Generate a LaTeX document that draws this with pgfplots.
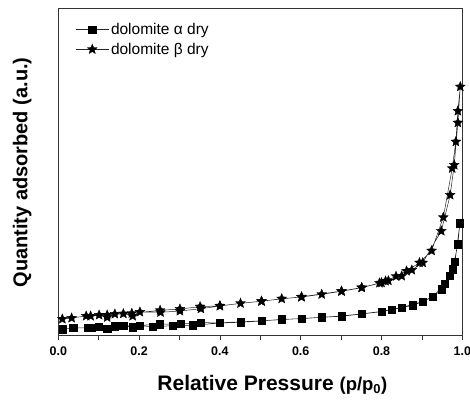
\documentclass[border=0pt]{standalone}
\usepackage{fontspec}
\setmainfont{Liberation Sans}
\usepackage{pgfplots}
\pgfplotsset{compat=1.18}
\usetikzlibrary{plotmarks}

% filled five-pointed star
\pgfdeclareplotmark{fstar}{%
  \pgfpathmoveto{\pgfpointpolar{90}{\pgfplotmarksize}}%
  \pgfpathlineto{\pgfpointpolar{126}{0.45\pgfplotmarksize}}%
  \pgfpathlineto{\pgfpointpolar{162}{\pgfplotmarksize}}%
  \pgfpathlineto{\pgfpointpolar{198}{0.45\pgfplotmarksize}}%
  \pgfpathlineto{\pgfpointpolar{234}{\pgfplotmarksize}}%
  \pgfpathlineto{\pgfpointpolar{270}{0.45\pgfplotmarksize}}%
  \pgfpathlineto{\pgfpointpolar{306}{\pgfplotmarksize}}%
  \pgfpathlineto{\pgfpointpolar{342}{0.45\pgfplotmarksize}}%
  \pgfpathlineto{\pgfpointpolar{18}{\pgfplotmarksize}}%
  \pgfpathlineto{\pgfpointpolar{54}{0.45\pgfplotmarksize}}%
  \pgfpathclose
  \pgfusepathqfillstroke
}

% N2 isotherms, adsorption branch followed by desorption branch
\pgfplotstableread{
x y
0.012 5.7
0.037 7.0
0.072 7.3
0.101 8.0
0.121 6.3
0.140 8.7
0.161 9.0
0.184 7.7
0.202 9.3
0.233 8.3
0.283 9.3
0.333 9.7
0.400 12.0
0.451 12.7
0.503 14.0
0.553 15.7
0.602 16.3
0.652 17.7
0.701 18.7
0.751 21.0
0.800 23.3
0.825 25.3
0.851 27.3
0.877 29.7
0.903 33.3
0.927 38.3
0.950 45.7
0.968 59.0
0.982 73.3
0.994 111.7
0.989 90.7
0.976 65.7
0.957 51.0
0.927 38.6
0.903 33.6
0.851 27.6
0.800 23.6
0.751 21.2
0.701 19.0
0.602 16.5
0.503 14.2
0.400 12.2
0.353 12.3
0.303 11.3
0.252 10.7
0.083 7.3
}\alphadry

\pgfplotstableread{
x y
0.010 16.0
0.033 17.0
0.069 19.0
0.101 20.0
0.121 17.7
0.140 21.0
0.161 21.3
0.184 19.0
0.202 23.0
0.253 22.7
0.301 24.0
0.353 26.3
0.400 29.0
0.451 31.7
0.503 33.7
0.553 36.3
0.602 38.0
0.652 40.7
0.701 43.7
0.751 47.3
0.800 52.3
0.817 54.3
0.850 59.0
0.875 65.0
0.902 72.3
0.948 104.0
0.970 140.0
0.980 170.0
0.989 212.3
0.995 248.3
0.989 224.0
0.984 193.3
0.975 166.7
0.953 117.7
0.924 84.3
0.894 72.3
0.862 64.0
0.836 58.7
0.810 54.0
0.795 52.0
0.751 47.5
0.701 43.9
0.602 38.2
0.503 33.9
0.400 29.2
0.351 28.3
0.301 26.0
0.252 24.7
0.182 21.7
0.121 20.0
0.080 19.0
}\betadry

\begin{document}
\begin{tikzpicture}
\useasboundingbox (-58.3pt,-64pt) rectangle (411.7pt,335pt);
\begin{axis}[
  scale only axis,
  width=404pt, height=327pt,
  at={(0pt,0pt)}, anchor=south west,
  xmin=0, xmax=1, ymin=0, ymax=327,
  axis line style={black!80, line width=0.8pt},
  ytick=\empty,
  xtick={0,0.2,0.4,0.6,0.8,1.0},
  minor xtick={0.1,0.3,0.5,0.7,0.9},
  xtick pos=left,
  tick align=outside,
  major tick length=5pt, minor tick length=5pt,
  tick style={black!80, line width=0.6pt},
  /pgf/number format/assume math mode=true,
  xticklabel={\textbf{\fontsize{12.5}{14}\selectfont\pgfmathprintnumber[fixed,fixed zerofill,precision=1,assume math mode=true]{\tick}}},
  xticklabel style={yshift=-3pt},
  xlabel={\bfseries\fontsize{21}{24}\selectfont Relative Pressure {\fontsize{18.5}{20}\selectfont(p/p\textsubscript{0})}},
  xlabel style={at={(rel axis cs:0.53,0)}, anchor=base, yshift=-55pt},
  ylabel={\bfseries\fontsize{20}{24}\selectfont Quantity adsorbed (a.u.)},
  ylabel style={at={(rel axis cs:-0.0891,0.497)}, anchor=center},
  legend style={draw=none, fill=none, at={(rel axis cs:0,1)}, anchor=north west,
    xshift=14pt, yshift=-11pt, row sep=3pt,
    font=\fontsize{15.5}{18}\selectfont},
  legend cell align=left,
  legend image code/.code={%
    \draw[mark repeat=2,mark phase=2,#1] plot coordinates {(0pt,0pt) (16.5pt,0pt) (33pt,0pt)};},
]
\addplot[black!85, line width=0.5pt, mark=square*, mark size=3.6pt,
  mark options={fill=black, draw=black, solid}] table {\alphadry};
\addlegendentry{dolomite α dry}
\addplot[black!85, line width=0.5pt, mark=fstar, mark size=5.2pt,
  mark options={fill=black, draw=black, solid, line width=0.3pt}] table {\betadry};
\addlegendentry{dolomite β dry}
\end{axis}
\end{tikzpicture}
\end{document}
